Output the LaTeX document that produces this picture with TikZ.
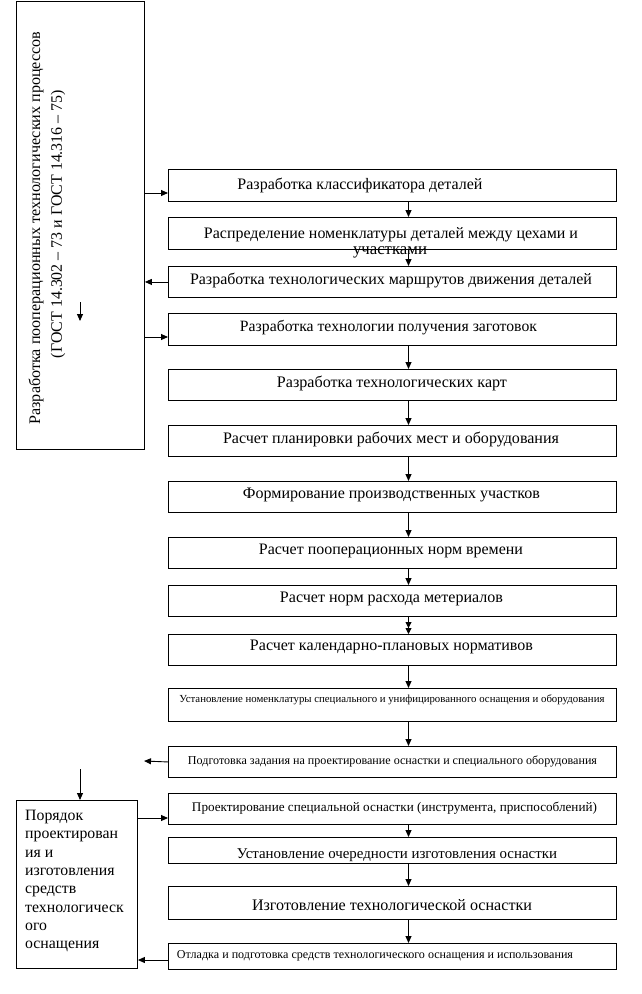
\documentclass[tikz,border=0pt]{standalone}
\usepackage{fontspec}
\setmainfont{Liberation Serif}
\usepackage{graphicx}
\usetikzlibrary{arrows.meta}
\newcommand{\fw}[2]{\resizebox{#1pt}{!}{#2}}
\begin{document}
\begin{tikzpicture}[x=1pt,y=-1pt,
  box/.style={draw,line width=0.9pt,inner sep=0pt,anchor=north west},
  arr/.style={line width=0.9pt,-{Triangle[length=7pt,width=6pt]}},
  arrtwo/.style={line width=0.9pt,-{Triangle[length=6pt,width=6pt]Triangle[length=6pt,width=6pt]}},
  lbl/.style={inner sep=0pt,font=\fontsize{12}{14}\selectfont}]
\fill[white] (0,0) rectangle (641,994);
\useasboundingbox (0,0) rectangle (641,994);
% boxes
\node[box,minimum width=128pt,minimum height=448pt] (L) at (16,1) {};
\node[box,minimum width=448pt,minimum height=32pt] (b1) at (168,169) {};
\node[box,minimum width=448pt,minimum height=32pt] (b2) at (168,217) {};
\node[box,minimum width=448pt,minimum height=31pt] (b3) at (168,266) {};
\node[box,minimum width=448pt,minimum height=32pt] (b4) at (168,313) {};
\node[box,minimum width=448pt,minimum height=31pt] (b5) at (168,369) {};
\node[box,minimum width=448pt,minimum height=31pt] (b6) at (168,425) {};
\node[box,minimum width=448pt,minimum height=31pt] (b7) at (168,481) {};
\node[box,minimum width=448pt,minimum height=31pt] (b8) at (168,537) {};
\node[box,minimum width=448pt,minimum height=31pt] (b9) at (168,585) {};
\node[box,minimum width=448pt,minimum height=31pt] (b10) at (168,634) {};
\node[box,minimum width=448pt,minimum height=33pt] (b11) at (168,688) {};
\node[box,minimum width=448pt,minimum height=31pt] (b12) at (168,746) {};
\node[box,minimum width=448pt,minimum height=31pt] (b13) at (168,793) {};
\node[box,minimum width=448pt,minimum height=26pt] (b14) at (168,837) {};
\node[box,minimum width=448pt,minimum height=33pt] (b15) at (168,886) {};
\node[box,minimum width=448pt,minimum height=26pt] (b16) at (168,943) {};
\node[box,minimum width=121pt,minimum height=168pt] (LB) at (16,800) {};
% texts
\node[lbl,rotate=90] (tL1) at (36,228) {\fw{393}{Разработка пооперационных технологических процессов}};
\node[lbl,rotate=90] (tL2) at (58,224) {\fw{268}{(ГОСТ 14.302 – 73 и ГОСТ 14.316 – 75)}};
\node[lbl] (t1) at (360,185) {\fw{245}{Разработка классификатора деталей}};
\node[lbl] (t2) at (391,235) {\fw{374}{Распределение номенклатуры деталей между цехами и}};
\node[lbl] (t2b) at (390,252) {\fw{74}{участками}};
\node[lbl] (t3) at (391,281) {\fw{402}{Разработка технологических маршрутов движения деталей}};
\node[lbl] (t4) at (388.5,328) {\fw{297}{Разработка технологии получения заготовок}};
\node[lbl] (t5) at (392,383) {\fw{230}{Разработка технологических карт}};
\node[lbl] (t6) at (391,439) {\fw{336}{Расчет планировки рабочих мест и оборудования}};
\node[lbl] (t7) at (391.5,495) {\fw{297}{Формирование производственных участков}};
\node[lbl] (t8) at (391,551) {\fw{264}{Расчет пооперационных норм времени}};
\node[lbl] (t9) at (391.5,599) {\fw{223}{Расчет норм расхода метериалов}};
\node[lbl] (t10) at (391.5,647) {\fw{283}{Расчет календарно-плановых нормативов}};
\node[lbl] (t11) at (392,700) {\fw{425}{Установление номенклатуры специального и унифицированного оснащения и оборудования}};
\node[lbl] (t12) at (392.5,761) {\fw{409}{Подготовка задания на проектирование оснастки и специального оборудования}};
\node[lbl] (t13) at (394.5,808) {\fw{405}{Проектирование специальной оснастки (инструмента, приспособлений)}};
\node[lbl] (t14) at (397,855) {\fw{320}{Установление очередности изготовления оснастки}};
\node[lbl] (t15) at (392,905) {\fw{280}{Изготовление технологической оснастки}};
\node[lbl] (t16) at (375,956) {\fw{396}{Отладка и подготовка средств технологического оснащения и использования}};
\node[inner sep=0pt,anchor=north west,align=left,font=\fontsize{15.8}{18.3}\selectfont] (tLB) at (25,810)
  {Порядок\\проектирован\\ия и\\изготовления\\средств\\технологическ\\ого\\оснащения};
% coordinates
\coordinate (ax) at (408.5,0);
\coordinate (h1) at (0,193);
\coordinate (h4) at (0,337);
\coordinate (s1) at (80,302);
\coordinate (s2) at (80,321);
\coordinate (e12) at (144,761);
\coordinate (s3) at (80,769);
\coordinate (h13) at (0,818);
\coordinate (h16) at (0,960);
% vertical arrows
\draw[arr] (b1.south -| ax) -- (b2.north -| ax);
\draw[arr] (b2.south -| ax) -- (b3.north -| ax);
\draw[arr] (b4.south -| ax) -- (b5.north -| ax);
\draw[arr] (b5.south -| ax) -- (b6.north -| ax);
\draw[arr] (b6.south -| ax) -- (b7.north -| ax);
\draw[arr] (b7.south -| ax) -- (b8.north -| ax);
\draw[arr] (b8.south -| ax) -- (b9.north -| ax);
\draw[arrtwo] (b9.south -| ax) -- (b10.north -| ax);
\draw[arr] (b10.south -| ax) -- (b11.north -| ax);
\draw[arr] (b11.south -| ax) -- (b12.north -| ax);
\draw[arr] (b13.south -| ax) -- (b14.north -| ax);
\draw[arr] (b14.south -| ax) -- (b15.north -| ax);
\draw[arr] (b15.south -| ax) -- (b16.north -| ax);
% horizontal arrows
\draw[arr] (L.east |- h1) -- (b1.west |- h1);
\draw[arr] (b3.west) -- (L.east |- b3.west);
\draw[arr] (L.east |- h4) -- (b4.west |- h4);
\draw[arr] (s1) -- (s2);
\draw[arr] (b12.west) -- (e12);
\draw[arr] (s3) -- (LB.north -| s3);
\draw[arr] (LB.east |- h13) -- (b13.west |- h13);
\draw[arr] (b16.west |- h16) -- (LB.east |- h16);
\end{tikzpicture}
\end{document}
